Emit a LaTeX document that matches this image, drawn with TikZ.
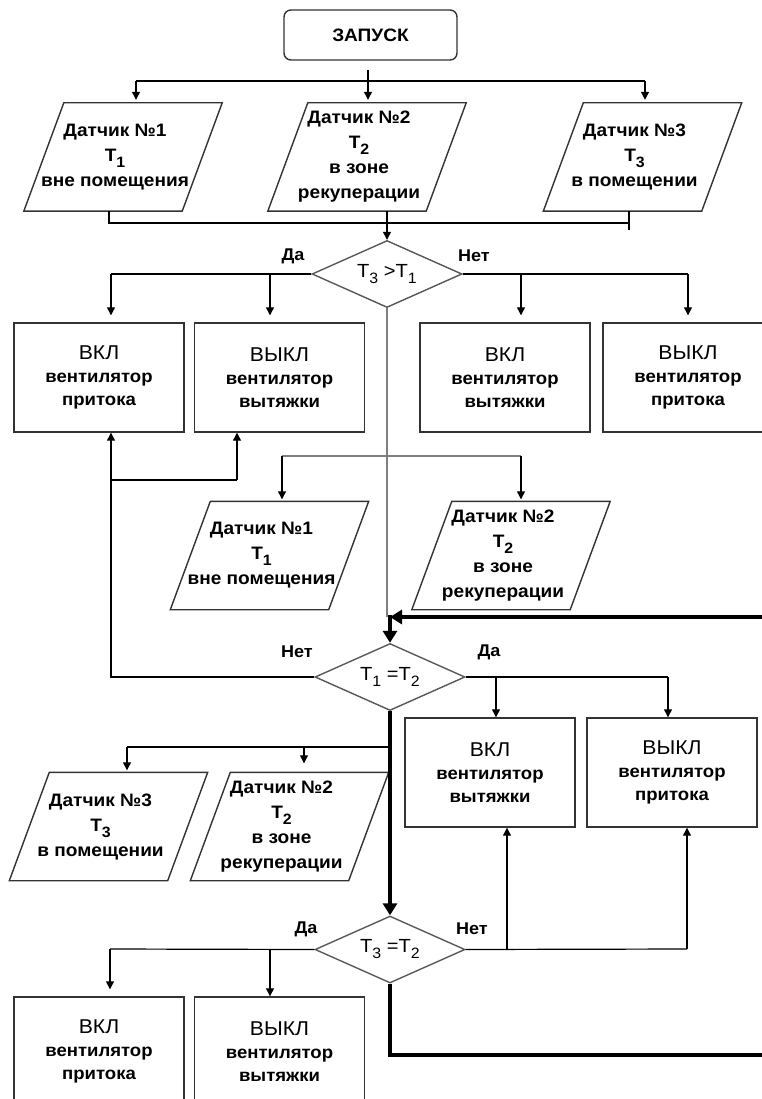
\documentclass[tikz,border=0pt]{standalone}
\usepackage{fontspec}
\setmainfont{Liberation Sans}[FakeStretch=1.06]
\usetikzlibrary{arrows.meta,shapes.geometric}
\newcommand\Tsub[1]{T\raisebox{-6pt}{\fontsize{15}{15}\selectfont #1}}
\newcommand\hdf{\fontsize{20}{23}\selectfont\mdseries}
\newcommand\paral[4]{%
  \node[para] (#1) at (#2-8,#3) {#4};
  \draw[pbox] ([xshift=48pt]#1.north west) -- ([xshift=8pt]#1.north east) -- ([xshift=-32pt]#1.south east) -- ([xshift=8pt]#1.south west) -- cycle;
}
\begin{document}
\begin{tikzpicture}[x=1pt,y=-1pt,
  every node/.style={font=\fontsize{18}{25}\selectfont\bfseries, align=center},
  ln/.style={draw=black, line width=1.2pt},
  arr/.style={ln, -{Triangle[length=8pt,width=8pt]}},
  thk/.style={draw=black, line width=4pt},
  thkarr/.style={thk, -{Triangle[length=12pt,width=14pt]}},
  gry/.style={draw=black!50, line width=1.8pt},
  pbox/.style={draw=black!80, line width=1.4pt},
  box/.style={draw=black!80, line width=1.4pt, rectangle, minimum width=170pt, minimum height=109pt, inner sep=0pt, font=\fontsize{17.5}{23}\selectfont\bfseries},
  dia/.style={draw=black!65, line width=1.4pt, diamond, minimum width=150pt, minimum height=67pt, inner sep=0pt, aspect=2.2, font=\fontsize{19}{22}\selectfont\mdseries},
  para/.style={minimum width=198pt, minimum height=108pt, inner sep=0pt},
  lbl/.style={font=\fontsize{17}{20}\selectfont\bfseries}
]
\useasboundingbox (0,0) rectangle (762,1099);
\clip (0,0) rectangle (762,1099);
\fill[white] (0,0) rectangle (762,1099);

% ---------- nodes ----------
\node[draw=black!80, line width=1.4pt, rounded corners=7pt, minimum width=173pt, minimum height=50pt] (start) at (370.5,35) {ЗАПУСК};

\paral{p1}{123}{157}{Датчик №1\\\Tsub{1}\\вне помещения}
\paral{p2}{367}{157}{Датчик №2\\\Tsub{2}\\в зоне\\рекуперации}
\paral{p3}{642.5}{157}{Датчик №3\\\Tsub{3}\\в помещении}

\node[dia] (d1) at (387,274) {\Tsub{3} >\Tsub{1}};

\node[box] (bA) at (99,377.5) {{\hdf ВКЛ}\\вентилятор\\притока};
\node[box] (bB) at (279.5,377.5) {{\hdf ВЫКЛ}\\вентилятор\\вытяжки};
\node[box] (bC) at (505,377.5) {{\hdf ВКЛ}\\вентилятор\\вытяжки};
\node[box] (bD) at (688,377.5) {{\hdf ВЫКЛ}\\вентилятор\\притока};

\paral{p4}{269.5}{555.5}{Датчик №1\\\Tsub{1}\\вне помещения}
\paral{p5}{511}{555.5}{Датчик №2\\\Tsub{2}\\в зоне\\рекуперации}

\node[dia] (d2) at (390,677) {\Tsub{1} =\Tsub{2}};

\node[box] (bE) at (490,772.5) {{\hdf ВКЛ}\\вентилятор\\вытяжки};
\node[box] (bF) at (672,772.5) {{\hdf ВЫКЛ}\\вентилятор\\притока};

\paral{p6}{108.5}{826.5}{Датчик №3\\\Tsub{3}\\в помещении}
\paral{p7}{289.5}{826.5}{Датчик №2\\\Tsub{2}\\в зоне\\рекуперации}

\node[dia] (d3) at (390,949.5) {\Tsub{3} =\Tsub{2}};

\node[box] (bG) at (99,1051.5) {{\hdf ВКЛ}\\вентилятор\\притока};
\node[box] (bH) at (279.5,1051.5) {{\hdf ВЫКЛ}\\вентилятор\\вытяжки};

% labels
\node[lbl] (l1) at (293,256) {Да};
\node[lbl] (l2) at (474,256) {Нет};
\node[lbl] (l3) at (297,652) {Нет};
\node[lbl] (l4) at (489,652) {Да};
\node[lbl] (l5) at (306,929) {Да};
\node[lbl] (l6) at (472,929) {Нет};

% ---------- coordinates ----------
\coordinate (s0) at (368,70);
\coordinate (j1) at (136,81);
\coordinate (j3) at (645,81);
\coordinate (k1) at (109,223);
\coordinate (k3) at (629,223);
\coordinate (da1) at (111,274);
\coordinate (da2) at (270,274);
\coordinate (db1) at (521,274);
\coordinate (db2) at (688,274);
\coordinate (g1) at (282,456);
\coordinate (g2) at (521,456);
\coordinate (fb1) at (111,480);
\coordinate (fb2) at (237,480);
\coordinate (th1) at (762,617);
\coordinate (th2) at (390,617);
\coordinate (dc1) at (496,677);
\coordinate (dc2) at (668,677);
\coordinate (e0) at (390,747);
\coordinate (e1) at (127,747);
\coordinate (e2) at (304,747);
\coordinate (f1) at (507,949);
\coordinate (f2) at (687,949);
\coordinate (h1) at (110,949);
\coordinate (h2) at (270,949);
\coordinate (th3) at (762,1055);

% ---------- connectors ----------
\draw[ln] (j1) -- (j3);
\draw[arr, shorten >=3pt] (s0) -- (s0 |- p2.north);
\draw[arr, shorten >=3pt] (j1) -- (j1 |- p1.north);
\draw[arr, shorten >=3pt] (j3) -- (j3 |- p3.north);

\draw[ln] (k1 |- p1.south) -- (k1) -- (k3) -- (k3 |- p3.south);
\draw[ln] (k3) -- ++(0,7);
\draw[arr] (d1.north |- p2.south) -- (d1.north);

\draw[ln] (d1.west) -- (da1);
\draw[arr, shorten >=7pt] (da1) -- (da1 |- bA.north);
\draw[arr, shorten >=7pt] (da2) -- (da2 |- bB.north);
\draw[ln] (d1.east) -- (db2);
\draw[arr, shorten >=7pt] (db1) -- (db1 |- bC.north);
\draw[arr, shorten >=7pt] (db2) -- (db2 |- bD.north);

\draw[gry] (d1.south) -- (d1.south |- th1);
\draw[gry] (g1) -- (g2);
\draw[arr, shorten >=2pt] (g1) -- (g1 |- p4.north);
\draw[arr, shorten >=2pt] (g2) -- (g2 |- p5.north);

\draw[arr] (d2.west) -| (bA.south -| fb1);
\draw[ln] (fb1) -- (fb2);
\draw[arr] (fb2) -- (fb2 |- bB.south);

\draw[thkarr] (th1) -- (th2);
\draw[thkarr] ([yshift=2pt]th2 -| d2.north) -- (d2.north);

\draw[ln] (d2.east) -- (dc2);
\draw[arr] (dc1) -- (dc1 |- bE.north);
\draw[arr] (dc2) -- (dc2 |- bF.north);

\draw[thkarr] (d2.south) -- (d3.north);
\draw[ln] (e0) -- (e1);
\draw[arr, shorten >=2pt] (e1) -- (e1 |- p6.north);
\draw[arr, shorten >=9pt] (e2) -- (e2 |- p7.north);

\draw[ln] (d3.east) -- (f2);
\draw[arr] (f1) -- (f1 |- bE.south);
\draw[arr] (f2) -- (f2 |- bF.south);

\draw[ln] (d3.west) -- (h1);
\draw[arr, shorten >=7pt] (h1) -- (h1 |- bG.north);
\draw[arr] (h2) -- (h2 |- bH.north);

\draw[thk] (d3.south) |- (th3);
\end{tikzpicture}
\end{document}
